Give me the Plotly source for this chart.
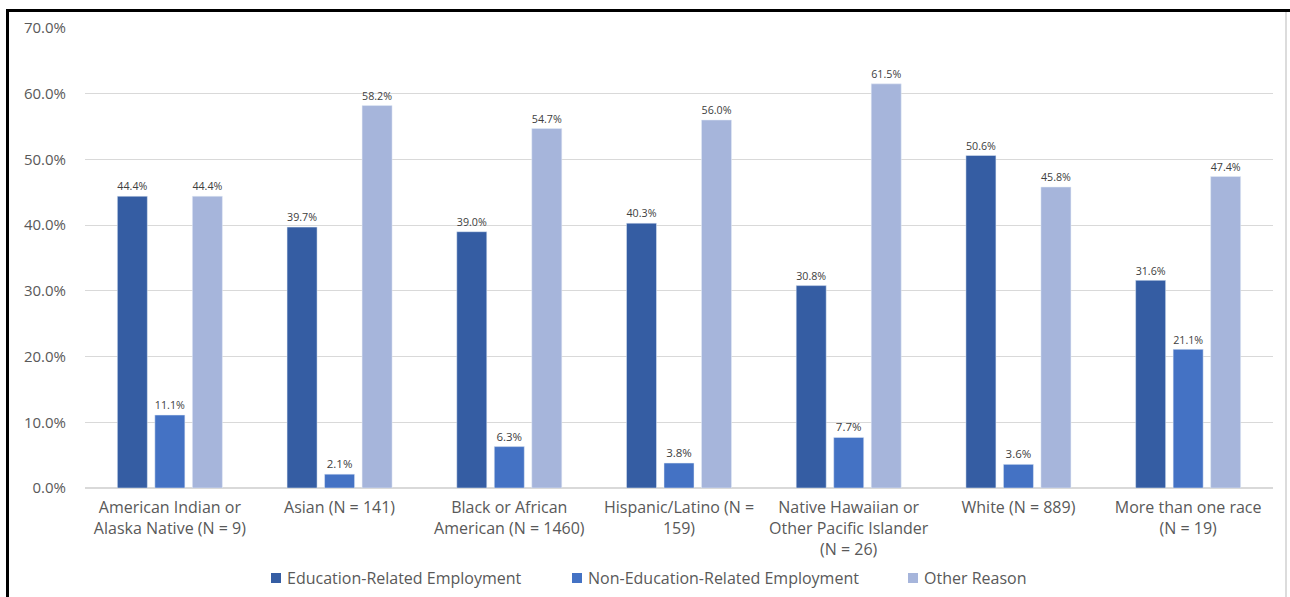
import plotly.graph_objects as go

categories = [
    "American Indian or<br>Alaska Native (N = 9)",
    "Asian (N = 141)",
    "Black or African<br>American (N = 1460)",
    "Hispanic/Latino (N =<br>159)",
    "Native Hawaiian or<br>Other Pacific Islander<br>(N = 26)",
    "White (N = 889)",
    "More than one race<br>(N = 19)",
]
edu_related = [44.4, 39.7, 39.0, 40.3, 30.8, 50.6, 31.6]
non_edu_related = [11.1, 2.1, 6.3, 3.8, 7.7, 3.6, 21.1]
other_reason = [44.4, 58.2, 54.7, 56.0, 61.5, 45.8, 47.4]

series_names = ["Education-Related Employment", "Non-Education-Related Employment", "Other Reason"]
series_values = [edu_related, non_edu_related, other_reason]
series_colors = ["#355DA3", "#4472C4", "#A6B5DB"]

FONT = "Open Sans, Noto Sans, sans-serif"
fig = go.Figure()
for name, vals, color in zip(series_names, series_values, series_colors):
    fig.add_trace(go.Bar(
        name=name, x=categories, y=vals, marker_color=color,
        text=vals, texttemplate="%{y:.1f}%", textposition="outside",
        textfont=dict(size=11.5, color="#404040", family=FONT), cliponaxis=False,
        showlegend=False,
    ))

W, H = 1290, 597
L, R, T, B = 85, 17, 28, 109
fig.update_layout(
    width=W, height=H,
    margin=dict(l=L, r=R, t=T, b=B, autoexpand=False),
    plot_bgcolor="white", paper_bgcolor="white",
    font=dict(family=FONT, color="#595959", size=14),
    barmode="group", bargap=0.337, bargroupgap=0.2,
    showlegend=False,
)
fig.update_yaxes(range=[0, 70], dtick=10, ticksuffix="%", tickformat=".1f",
                 showgrid=True, gridcolor="#D9D9D9", zeroline=True, zerolinecolor="#D9D9D9",
                 tickfont=dict(size=15, color="#595959"), ticks="",
                 ticklabelstandoff=18, automargin=False)
fig.update_xaxes(showgrid=False, tickfont=dict(size=16, color="#595959"), ticks="",
                 showline=False, ticklabelstandoff=8, automargin=False)

pw, ph = W - L - R, H - T - B
def px(x): return (x - L) / pw
def py(y): return (H - B - y) / ph

# legend (manual, to match Excel-style spacing)
legend_x = [276, 577, 913]
legend_y = 578
for name, color, lx in zip(series_names, series_colors, legend_x):
    fig.add_shape(type="rect", xref="paper", yref="paper",
                  x0=px(lx - 5), x1=px(lx + 5), y0=py(legend_y + 5), y1=py(legend_y - 5),
                  fillcolor=color, line=dict(width=0))
    fig.add_annotation(xref="paper", yref="paper", x=px(lx + 9), y=py(legend_y),
                       xanchor="left", yanchor="middle", showarrow=False,
                       text=name, font=dict(size=16, color="#595959", family=FONT))

fig.add_shape(type="path", xref="paper", yref="paper",
              path=f"M {px(7.5)} {py(600)} L {px(7.5)} {py(10.5)} L {px(1292)} {py(10.5)}",
              line=dict(color="black", width=3))
fig.add_shape(type="line", xref="paper", yref="paper",
              x0=px(1286), x1=px(1286), y0=py(12), y1=py(600),
              line=dict(color="#D0D0D0", width=1.5))

fig.write_html("out.html")
